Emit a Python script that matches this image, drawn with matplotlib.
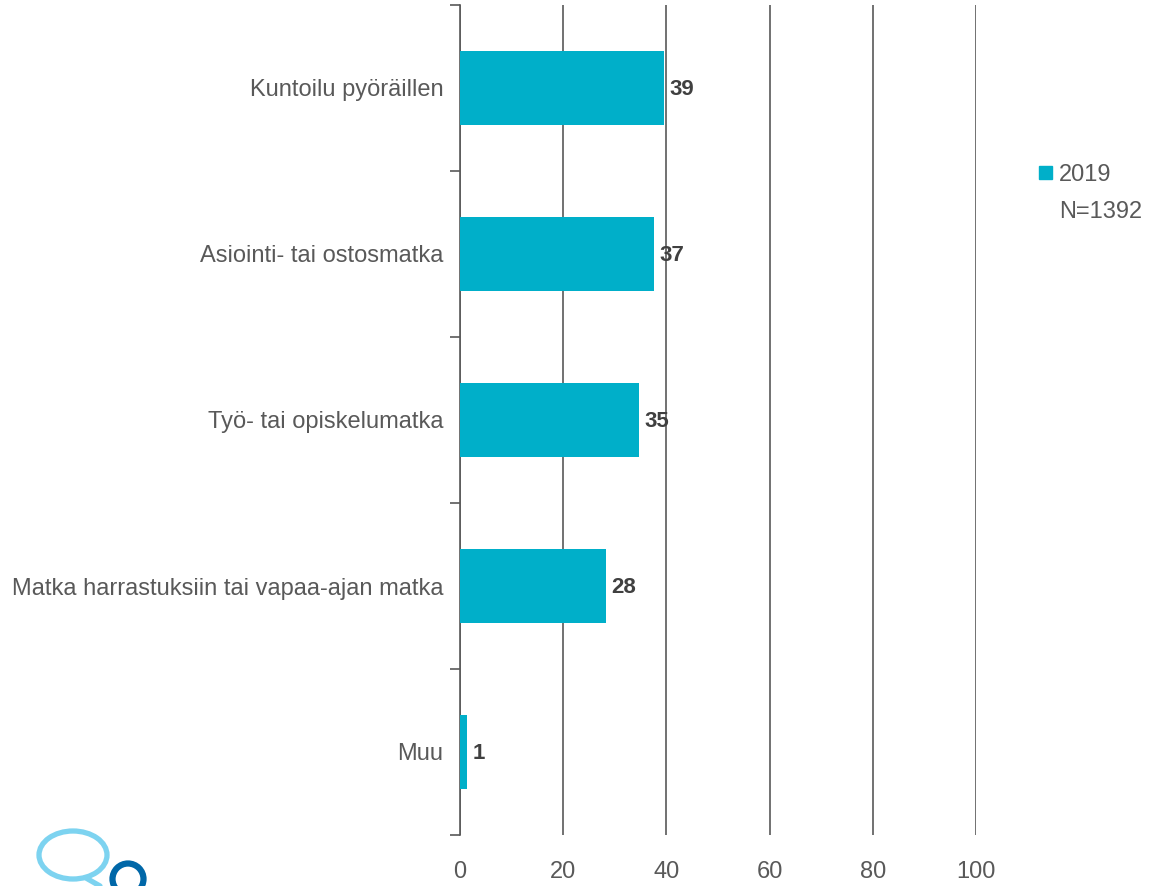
import matplotlib
matplotlib.use("Agg")
import matplotlib.pyplot as plt
from matplotlib.patches import Ellipse, Circle, Rectangle

categories = ["Kuntoilu pyöräillen", "Asiointi- tai ostosmatka", "Työ- tai opiskelumatka",
              "Matka harrastuksiin tai vapaa-ajan matka", "Muu"]
values = [39.5, 37.6, 34.7, 28.3, 1.3]
labels = ["39", "37", "35", "28", "1"]
xticks = [0, 20, 40, 60, 80, 100]
legend_year = "2019"
legend_n = "N=1392"

plt.rcParams["font.family"] = ["Liberation Sans", "DejaVu Sans"]

bar_color = "#00AFC9"
text_color = "#595959"
grid_color = "#595959"

fig = plt.figure(figsize=(11.55, 8.86), dpi=100)
ax = fig.add_axes([460/1155, 1-835/886, (976-460)/1155, (835-5)/886])

n = len(categories)
ypos = list(range(n))
ax.barh(ypos, values, height=0.45, color=bar_color, zorder=3)
ax.set_ylim(n-0.5, -0.5)
ax.set_xlim(0, 100)

for y, v, l in zip(ypos, values, labels):
    ax.text(v + 1.1, y + 0.01, l, va="center", ha="left", fontsize=16, fontweight="bold",
            color="#404040", zorder=4)

ax.set_xticks(xticks)
ax.set_xticklabels([str(t) for t in xticks], fontsize=17, color=text_color)
ax.tick_params(axis="x", length=0, pad=19)
ax.xaxis.grid(True, color=grid_color, linewidth=1.2, zorder=1)

ax.set_yticks([i - 0.5 for i in range(n + 1)], minor=False)
ax.set_yticklabels([])
ax.set_yticks(ypos, minor=True)
ax.set_yticklabels(categories, minor=True, fontsize=17, color=text_color)
ax.tick_params(axis="y", which="major", length=7, width=1.2, color=grid_color, direction="out")
ax.tick_params(axis="y", which="minor", length=0, pad=12)

for s in ["top", "right", "bottom"]:
    ax.spines[s].set_visible(False)
ax.spines["left"].set_color(grid_color)
ax.spines["left"].set_linewidth(1.2)

# legend
fig.patches.append(Rectangle((1039/1155, 1-179/886), 13/1155, 13/886,
                             transform=fig.transFigure, color=bar_color))
fig.text(1059/1155, 1-175/886, legend_year, fontsize=17, color=text_color, va="center", ha="left")
fig.text(1059/1155, 1-212/886, legend_n, fontsize=17, color=text_color, va="center", ha="left")

# logo
logo_ax = fig.add_axes([0, 0, 1, 1], facecolor="none")
logo_ax.set_xlim(0, 1155)
logo_ax.set_ylim(886, 0)
logo_ax.axis("off")
logo_ax.add_patch(Ellipse((73, 855), 68, 48, fill=False, edgecolor="#7DD3F0", linewidth=3.8))
logo_ax.plot([86, 100], [878, 886], color="#7DD3F0", linewidth=3.8, solid_capstyle="round")
logo_ax.add_patch(Circle((128, 879), 15.5, fill=False, edgecolor="#0067A8", linewidth=4.5))

fig.savefig("out.png", dpi=100)
